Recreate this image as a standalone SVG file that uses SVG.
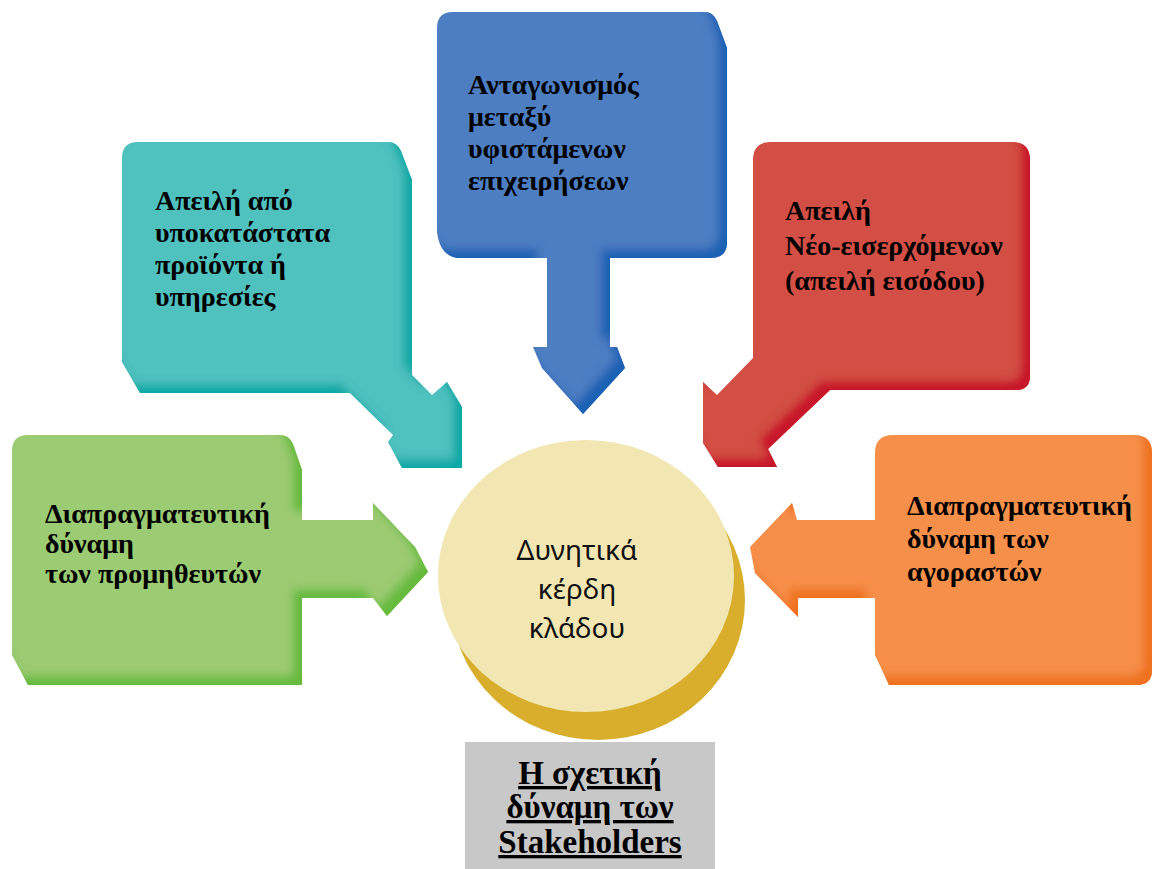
<svg xmlns="http://www.w3.org/2000/svg" width="1156" height="869" viewBox="0 0 1156 869">
  <defs>
    <style>
      .lbl { font-family: "Liberation Serif", "Times New Roman", serif; font-weight: bold; font-size: 28px; fill: #000; }
      .core { font-family: "Noto Sans", "Open Sans", sans-serif; font-size: 28px; fill: #111; text-anchor: middle; }
      .cap { font-family: "Liberation Serif", "Times New Roman", serif; font-weight: bold; font-size: 33px; fill: #000; text-anchor: middle; text-decoration: underline; }
    </style>
    <!-- bevelled lower/right rim in a darker tone of each fill -->
    <filter id="rim-teal" x="-5%" y="-5%" width="110%" height="110%">
      <feOffset in="SourceAlpha" dx="-9" dy="-9" result="off"/>
      <feGaussianBlur in="off" stdDeviation="4" result="blur"/>
      <feComposite in="SourceAlpha" in2="blur" operator="out" result="edge"/>
      <feFlood flood-color="#0aa9a6"/>
      <feComposite in2="edge" operator="in" result="shade"/>
      <feMerge><feMergeNode in="SourceGraphic"/><feMergeNode in="shade"/></feMerge>
    </filter>
    <filter id="rim-blue" x="-5%" y="-5%" width="110%" height="110%">
      <feOffset in="SourceAlpha" dx="-9" dy="-9" result="off"/>
      <feGaussianBlur in="off" stdDeviation="4" result="blur"/>
      <feComposite in="SourceAlpha" in2="blur" operator="out" result="edge"/>
      <feFlood flood-color="#1f62b4"/>
      <feComposite in2="edge" operator="in" result="shade"/>
      <feMerge><feMergeNode in="SourceGraphic"/><feMergeNode in="shade"/></feMerge>
    </filter>
    <filter id="rim-red" x="-5%" y="-5%" width="110%" height="110%">
      <feOffset in="SourceAlpha" dx="-9" dy="-9" result="off"/>
      <feGaussianBlur in="off" stdDeviation="4" result="blur"/>
      <feComposite in="SourceAlpha" in2="blur" operator="out" result="edge"/>
      <feFlood flood-color="#c8142a"/>
      <feComposite in2="edge" operator="in" result="shade"/>
      <feMerge><feMergeNode in="SourceGraphic"/><feMergeNode in="shade"/></feMerge>
    </filter>
    <filter id="rim-green" x="-5%" y="-5%" width="110%" height="110%">
      <feOffset in="SourceAlpha" dx="-9" dy="-9" result="off"/>
      <feGaussianBlur in="off" stdDeviation="4" result="blur"/>
      <feComposite in="SourceAlpha" in2="blur" operator="out" result="edge"/>
      <feFlood flood-color="#66bb3e"/>
      <feComposite in2="edge" operator="in" result="shade"/>
      <feMerge><feMergeNode in="SourceGraphic"/><feMergeNode in="shade"/></feMerge>
    </filter>
    <filter id="rim-orange" x="-5%" y="-5%" width="110%" height="110%">
      <feOffset in="SourceAlpha" dx="-9" dy="-9" result="off"/>
      <feGaussianBlur in="off" stdDeviation="4" result="blur"/>
      <feComposite in="SourceAlpha" in2="blur" operator="out" result="edge"/>
      <feFlood flood-color="#ef7220"/>
      <feComposite in2="edge" operator="in" result="shade"/>
      <feMerge><feMergeNode in="SourceGraphic"/><feMergeNode in="shade"/></feMerge>
    </filter>
  </defs>

  <rect width="1156" height="869" fill="#ffffff"/>

  <!-- central hub -->
  <g id="hub">
    <ellipse cx="598" cy="600" rx="147" ry="140" fill="#d9ae2c"/>
    <ellipse cx="586" cy="576" rx="148" ry="136" fill="#f2e7b2"/>
    <text class="core" x="577" y="560">Δυνητικά</text>
    <text class="core" x="577" y="599">κέρδη</text>
    <text class="core" x="577" y="638">κλάδου</text>
  </g>

  <!-- callout boxes; each one carries its own arrow toward the hub -->
  <g id="connectors">
    <path id="arrow-substitutes" filter="url(#rim-teal)" fill="#4fc1bf"
      d="M 122 158 Q 122 142 138 142 L 388 142 Q 397 142 401 151 L 412 180 L 412 375 L 432 395 L 447 382 L 462 407 L 462 468 L 402 468 L 388 442 L 393 435 L 350 393 L 140 393 L 122 362 Z"/>
    <path id="arrow-rivalry" filter="url(#rim-blue)" fill="#4e7ec2"
      d="M 437 28 Q 437 12 453 12 L 705 12 Q 713 12 717 21 L 727 48 L 727 242 Q 727 258 711 258 L 610 258 L 610 347 L 617 347 L 625 368 L 583 414 L 542 368 L 533 347 L 547 347 L 547 258 L 458 258 Q 440 256 437 232 Z"/>
    <path id="arrow-entrants" filter="url(#rim-red)" fill="#d34f45"
      d="M 753 160 Q 753 142 771 142 L 1012 142 Q 1030 142 1030 160 L 1030 376 Q 1030 390 1016 390 L 830 390 L 768 449 L 777 467 L 718 467 L 703 443 L 703 382 L 717 395 L 753 358 Z"/>
    <path id="arrow-suppliers" filter="url(#rim-green)" fill="#9bcb72"
      d="M 12 451 Q 12 435 28 435 L 280 435 Q 289 435 293 444 L 302 470 L 302 520 L 373 520 L 373 503 L 415 547 L 428 572 L 387 616 L 373 598 L 302 598 L 302 685 L 28 685 L 12 655 Z"/>
    <path id="arrow-buyers" filter="url(#rim-orange)" fill="#f68f4a"
      d="M 875 453 Q 875 435 893 435 L 1134 435 Q 1152 435 1152 453 L 1152 670 Q 1152 685 1137 685 L 889 685 L 875 655 L 875 598 L 798 598 L 798 617 L 755 573 L 750 547 L 792 503 L 797 520 L 875 520 Z"/>
  </g>

  <g id="node-substitutes">
    <text class="lbl" x="155" y="210">Απειλή  από</text>
    <text class="lbl" x="155" y="242">υποκατάστατα</text>
    <text class="lbl" x="155" y="274">προϊόντα ή</text>
    <text class="lbl" x="155" y="306">υπηρεσίες</text>
  </g>

  <g id="node-rivalry">
    <text class="lbl" x="468" y="94">Ανταγωνισμός</text>
    <text class="lbl" x="468" y="126">μεταξύ</text>
    <text class="lbl" x="468" y="158">υφιστάμενων</text>
    <text class="lbl" x="468" y="190">επιχειρήσεων</text>
  </g>

  <g id="node-entrants">
    <text class="lbl" x="785" y="220">Απειλή</text>
    <text class="lbl" x="785" y="255">Νέο-εισερχόμενων</text>
    <text class="lbl" x="785" y="290">(απειλή εισόδου)</text>
  </g>

  <g id="node-suppliers">
    <text class="lbl" x="45" y="523">Διαπραγματευτική</text>
    <text class="lbl" x="45" y="553">δύναμη</text>
    <text class="lbl" x="45" y="583">των προμηθευτών</text>
  </g>

  <g id="node-buyers">
    <text class="lbl" x="907" y="515">Διαπραγματευτική</text>
    <text class="lbl" x="907" y="548">δύναμη των</text>
    <text class="lbl" x="907" y="581">αγοραστών</text>
  </g>

  <g id="caption">
    <rect x="465" y="742" width="250" height="127" fill="#c8c8c8"/>
    <text class="cap" x="590" y="784">Η σχετική</text>
    <text class="cap" x="590" y="818">δύναμη των</text>
    <text class="cap" x="590" y="853">Stakeholders</text>
  </g>
</svg>
